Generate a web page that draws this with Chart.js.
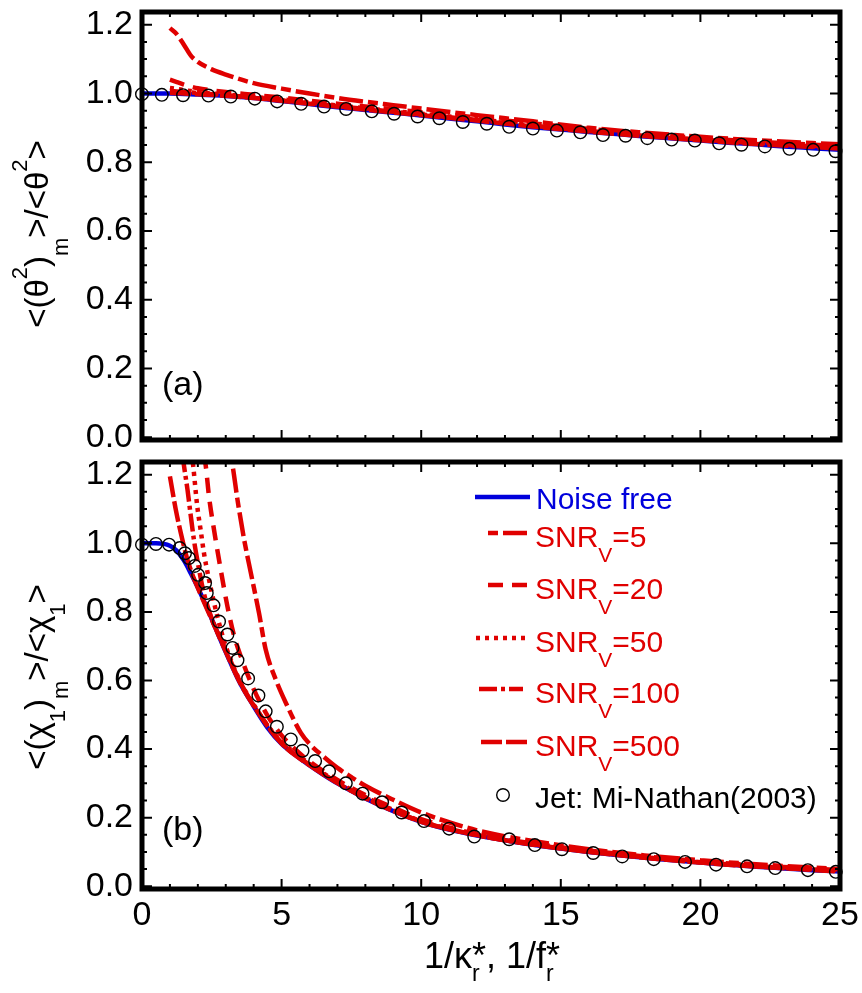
<!DOCTYPE html>
<html lang="en">
<head>
<meta charset="UTF-8" />
<title>Noise effect on scalar dissipation</title>
<script src="https://cdn.jsdelivr.net/npm/chart.js"></script>
<style>
  body { margin: 0; background: #fff; }
  #wrap { position: relative; width: 862px; height: 993px; }
  canvas { position: absolute; left: 0; }
</style>
</head>
<body>
<div id="wrap">
  <canvas id="chartA" width="862" height="455" style="top:0"></canvas>
  <canvas id="chartB" width="862" height="543" style="top:450px"></canvas>
</div>
<script>
// ---------- data, panel (a): <(theta^2)_m>/<theta^2>
const xCleanA = [0, 1, 2, 3, 4, 5, 6, 7, 8, 9, 10, 11, 12, 13, 14, 15, 16, 17, 18, 19, 20, 21, 22, 23, 24, 25];
const yCleanA = [1.0, 1.0, 0.997, 0.993, 0.987, 0.978, 0.969, 0.960, 0.952, 0.944, 0.936, 0.927, 0.919, 0.910, 0.902, 0.895, 0.888, 0.882, 0.875, 0.869, 0.863, 0.857, 0.852, 0.846, 0.841, 0.836];

const xNoisyA = [1, 1.25, 1.5, 1.75, 2, 2.5, 3, 4, 5, 6, 7, 8, 9, 10, 12, 14, 16, 18, 20, 22, 25];
const ySnr5A   = [1.19, 1.172, 1.142, 1.11, 1.092, 1.07, 1.055, 1.03, 1.014, 1.0, 0.987, 0.976, 0.966, 0.956, 0.937, 0.919, 0.9, 0.886, 0.874, 0.864, 0.852];
const ySnr20A  = [1.04, 1.033, 1.026, 1.02, 1.015, 1.009, 1.004, 0.996, 0.988, 0.979, 0.97, 0.962, 0.954, 0.946, 0.93, 0.913, 0.897, 0.882, 0.87, 0.86, 0.847];
const ySnr50A  = [1.016, 1.013, 1.01, 1.007, 1.004, 1.0, 0.997, 0.99, 0.983, 0.974, 0.965, 0.957, 0.949, 0.941, 0.925, 0.908, 0.893, 0.879, 0.867, 0.857, 0.844];
const ySnr100A = [1.008, 1.006, 1.004, 1.003, 1.001, 0.998, 0.995, 0.988, 0.98, 0.972, 0.963, 0.955, 0.947, 0.939, 0.923, 0.906, 0.891, 0.877, 0.866, 0.855, 0.842];
const ySnr500A = [1.002, 1.001, 1.0, 0.999, 0.998, 0.996, 0.993, 0.987, 0.979, 0.97, 0.962, 0.953, 0.945, 0.937, 0.921, 0.904, 0.889, 0.876, 0.864, 0.853, 0.84];

const xJetA = [0, 0.71, 1.47, 2.38, 3.18, 4.04, 4.84, 5.70, 6.52, 7.31, 8.23, 9.03, 9.87, 10.65, 11.49, 12.35, 13.15, 14.00, 14.86, 15.70, 16.51, 17.32, 18.10, 18.97, 19.80, 20.67, 21.47, 22.31, 23.19, 24.04, 24.84];
const yJetA = [0.998, 0.996, 0.995, 0.994, 0.991, 0.985, 0.977, 0.970, 0.962, 0.955, 0.948, 0.941, 0.933, 0.928, 0.917, 0.912, 0.903, 0.898, 0.892, 0.887, 0.879, 0.877, 0.870, 0.866, 0.863, 0.855, 0.851, 0.846, 0.839, 0.836, 0.832];

// ---------- data, panel (b): <(chi_1)_m>/<chi_1>
const xCleanB = [0, 0.5, 1, 1.25, 1.5, 1.75, 2, 2.25, 2.5, 2.75, 3, 3.5, 4, 4.5, 5, 5.5, 6, 6.5, 7, 7.5, 8, 9, 10, 11, 12, 13, 14, 15, 16, 17, 18, 19, 20, 21, 22, 23, 24, 25];
const yCleanB = [1.0, 1.0, 0.993, 0.978, 0.95, 0.912, 0.871, 0.826, 0.779, 0.73, 0.683, 0.594, 0.525, 0.462, 0.415, 0.382, 0.352, 0.325, 0.3, 0.278, 0.256, 0.219, 0.188, 0.165, 0.148, 0.134, 0.121, 0.11, 0.1, 0.091, 0.083, 0.076, 0.069, 0.063, 0.057, 0.052, 0.047, 0.043];

const xSnr5B = [3.15, 3.24, 3.42, 3.66, 3.9, 4.19, 4.43, 4.79, 5.15, 5.69, 6, 6.5, 7, 7.5, 8, 9, 10, 12, 14, 16, 18, 20, 22, 25];
const ySnr5B = [1.26, 1.228, 1.127, 1.01, 0.913, 0.797, 0.69, 0.603, 0.535, 0.447, 0.415, 0.378, 0.345, 0.318, 0.293, 0.252, 0.215, 0.163, 0.132, 0.108, 0.09, 0.076, 0.064, 0.05];
const xSnr20B = [2.2, 2.28, 2.4, 2.58, 2.82, 3.06, 3.3, 3.54, 4, 4.5, 5, 5.5, 6, 7, 8, 9, 10, 12, 14, 16, 18, 20, 22, 25];
const ySnr20B = [1.26, 1.228, 1.136, 1.039, 0.923, 0.816, 0.73, 0.67, 0.575, 0.497, 0.44, 0.398, 0.364, 0.31, 0.266, 0.229, 0.196, 0.152, 0.125, 0.104, 0.087, 0.073, 0.061, 0.047];
const xSnr50B = [1.78, 1.83, 1.98, 2.1, 2.22, 2.4, 2.6, 2.8, 3, 3.5, 4, 4.5, 5, 6, 7, 8, 10, 12, 15, 20, 25];
const ySnr50B = [1.26, 1.228, 1.107, 1.039, 0.971, 0.894, 0.82, 0.755, 0.70, 0.60, 0.53, 0.468, 0.422, 0.357, 0.304, 0.26, 0.19, 0.15, 0.112, 0.07, 0.044];
const xSnr100B = [1.45, 1.5, 1.63, 1.75, 1.86, 1.98, 2.2, 2.5, 3, 3.5, 4, 5, 6, 7, 8, 10, 12, 15, 20, 25];
const ySnr100B = [1.26, 1.228, 1.156, 1.078, 1.01, 0.952, 0.86, 0.78, 0.69, 0.598, 0.528, 0.418, 0.354, 0.302, 0.258, 0.189, 0.149, 0.111, 0.07, 0.044];
const xSnr500B = [1.0, 1.21, 1.39, 1.6, 1.8, 2, 2.5, 3, 3.5, 4, 5, 6, 7, 8, 10, 12, 15, 20, 25];
const ySnr500B = [1.195, 1.098, 1.03, 0.96, 0.91, 0.87, 0.777, 0.684, 0.595, 0.526, 0.416, 0.353, 0.301, 0.257, 0.188, 0.149, 0.11, 0.069, 0.043];

const xJetB = [0, 0.5, 0.97, 1.35, 1.54, 1.68, 1.89, 2.01, 2.26, 2.32, 2.56, 2.76, 3.06, 3.24, 3.42, 3.80, 4.17, 4.43, 4.83, 5.33, 5.75, 6.2, 6.7, 7.3, 7.9, 8.6, 9.3, 10.1, 11.0, 11.9, 13.15, 14.07, 15.04, 16.16, 17.2, 18.33, 19.45, 20.56, 21.67, 22.68, 23.85, 24.85];
const yJetB = [0.996, 0.998, 0.996, 0.986, 0.971, 0.957, 0.934, 0.908, 0.884, 0.855, 0.819, 0.772, 0.734, 0.695, 0.659, 0.606, 0.556, 0.510, 0.465, 0.428, 0.395, 0.365, 0.335, 0.30, 0.27, 0.245, 0.215, 0.19, 0.168, 0.145, 0.137, 0.12, 0.108, 0.097, 0.087, 0.079, 0.071, 0.063, 0.058, 0.053, 0.047, 0.042];

// legend / series text
const snrLevels = ['5', '20', '50', '100', '500'];
const jetLabel = 'Jet: Mi-Nathan(2003)';
const cleanLabel = 'Noise free';

// ---------- styles
const FONT = "'Liberation Sans', Arial, Helvetica, sans-serif";
const RED = '#e00000';
const BLUE = '#0000dc';
const DASHES = [[10, 5, 24, 5], [15, 9], [4, 5], [18, 4, 4, 4], [21, 4]];

Chart.defaults.font.family = FONT;
Chart.defaults.color = '#000';

function pts(xs, ys) {
  return xs.map((x, i) => ({ x: x, y: ys[i] }));
}

function lineSet(label, data, color, dash, order) {
  return {
    label: label, data: data, showLine: true,
    borderColor: color, backgroundColor: color,
    borderWidth: 4.5, borderDash: dash, borderCapStyle: 'butt',
    pointRadius: 0, cubicInterpolationMode: 'monotone', order: order
  };
}

function jetSet(data) {
  return {
    label: jetLabel, data: data, showLine: false, clip: false,
    pointRadius: 6.3, pointBorderWidth: 1.4, pointBorderColor: '#000',
    pointBackgroundColor: 'rgba(0,0,0,0)', order: 0
  };
}

// text with sub/superscripts: parts {t, s, dy, stack}
function drawRich(ctx, parts, x, y, measureOnly) {
  let cx = x, lastStart = x, lastW = 0;
  parts.forEach(p => {
    ctx.font = p.s + 'px ' + FONT;
    const w = ctx.measureText(p.t).width;
    const sx = p.stack ? lastStart : cx;
    if (!measureOnly) ctx.fillText(p.t, sx, y + (p.dy || 0));
    if (p.stack) {
      cx = lastStart + Math.max(lastW, w);
    } else {
      lastStart = sx; lastW = w; cx = sx + w;
    }
  });
  return cx - x;
}

function yTitle(ctx, parts, bx, cy) {
  ctx.save();
  ctx.fillStyle = '#000';
  ctx.textBaseline = 'alphabetic';
  ctx.translate(bx, cy);
  ctx.rotate(-Math.PI / 2);
  const w = drawRich(ctx, parts, 0, 0, true);
  drawRich(ctx, parts, -w / 2, 0);
  ctx.restore();
}

// inward ticks on all four sides plus the heavy frame
const frameTicks = {
  id: 'frameTicks',
  afterDatasetsDraw(chart) {
    const { ctx, chartArea: a, scales: { x, y } } = chart;
    ctx.save();
    ctx.strokeStyle = '#000';
    ctx.lineWidth = 2;
    ctx.beginPath();
    for (let v = 0; v <= 25; v++) {
      const px = x.getPixelForValue(v);
      const len = v % 5 === 0 ? 10 : 5;
      ctx.moveTo(px, a.bottom); ctx.lineTo(px, a.bottom - len);
      ctx.moveTo(px, a.top); ctx.lineTo(px, a.top + len);
    }
    for (let k = 0; k <= 24; k++) {
      const py = y.getPixelForValue(k * 0.05);
      const len = k % 4 === 0 ? 10 : 5;
      ctx.moveTo(a.left, py); ctx.lineTo(a.left + len, py);
      ctx.moveTo(a.right, py); ctx.lineTo(a.right - len, py);
    }
    ctx.stroke();
    ctx.lineWidth = 5;
    ctx.strokeRect(a.left, a.top, a.right - a.left, a.bottom - a.top);
    ctx.restore();
  }
};

const decorA = {
  id: 'decorA',
  afterDraw(chart) {
    const ctx = chart.ctx;
    yTitle(ctx, [
      { t: '<(θ', s: 33 }, { t: '2', s: 22, dy: -21 }, { t: ')', s: 33 },
      { t: 'm', s: 22, dy: 20 }, { t: '>/<θ', s: 33 }, { t: '2', s: 22, dy: -21 },
      { t: '>', s: 33 }
    ], 48, 234);
    ctx.save();
    ctx.fillStyle = '#000';
    ctx.font = '34px ' + FONT;
    ctx.fillText('(a)', 162, 395);
    ctx.restore();
  }
};

const decorB = {
  id: 'decorB',
  afterDraw(chart) {
    const ctx = chart.ctx;
    yTitle(ctx, [
      { t: '<(χ', s: 33 }, { t: '1', s: 22, dy: 17 }, { t: ')', s: 33 },
      { t: 'm', s: 22, dy: 20 }, { t: '>/<χ', s: 33 }, { t: '1', s: 22, dy: 17 },
      { t: '>', s: 33 }
    ], 48, 227);

    ctx.save();
    ctx.fillStyle = '#000';
    ctx.font = '34px ' + FONT;
    ctx.fillText('(b)', 162, 390);

    // x axis title
    const xParts = [
      { t: '1/κ', s: 36 }, { t: 'r', s: 23, dy: 13 }, { t: '*', s: 36, stack: true },
      { t: ', 1/f', s: 36 }, { t: 'r', s: 23, dy: 13 }, { t: '*', s: 36, stack: true }
    ];
    const w = drawRich(ctx, xParts, 0, 0, true);
    drawRich(ctx, xParts, 492 - w / 2, 518);

    // legend
    const lineX0 = [488, 488, 476, 479, 481];
    const lineX1 = [528, 528, 530, 523, 527];
    const rowBase = [97, 149, 202, 253, 306];
    ctx.lineWidth = 4.5;
    ctx.lineCap = 'butt';
    ctx.strokeStyle = BLUE;
    ctx.setLineDash([]);
    ctx.beginPath(); ctx.moveTo(475, 47); ctx.lineTo(530, 47); ctx.stroke();
    ctx.fillStyle = BLUE;
    ctx.font = '30px ' + FONT;
    ctx.fillText(cleanLabel, 536, 59);

    ctx.fillStyle = RED;
    ctx.strokeStyle = RED;
    snrLevels.forEach((lv, i) => {
      ctx.setLineDash(DASHES[i]);
      ctx.beginPath();
      ctx.moveTo(lineX0[i], rowBase[i] - 14);
      ctx.lineTo(lineX1[i], rowBase[i] - 14);
      ctx.stroke();
      drawRich(ctx, [{ t: 'SNR', s: 30 }, { t: 'V', s: 21, dy: 15 }, { t: '=' + lv, s: 30 }], 535, rowBase[i]);
    });
    ctx.setLineDash([]);
    ctx.strokeStyle = '#000';
    ctx.lineWidth = 1.4;
    ctx.beginPath(); ctx.arc(503, 345, 6.3, 0, Math.PI * 2); ctx.stroke();
    ctx.fillStyle = '#000';
    ctx.font = '30px ' + FONT;
    ctx.fillText(jetLabel, 535, 358);
    ctx.restore();
  }
};

function makeOptions(showX) {
  return {
    responsive: false,
    animation: false,
    layout: { padding: { left: 0, right: 22, top: 12, bottom: 0 } },
    plugins: { legend: { display: false }, tooltip: { enabled: false } },
    scales: {
      x: {
        type: 'linear', min: 0, max: 25,
        grid: { display: false, drawTicks: false },
        border: { display: false },
        ticks: { display: showX, stepSize: 5, padding: 6, color: '#000', font: { size: 34 } },
        afterFit: s => { s.height = showX ? 104 : 15; s.paddingLeft = 0; s.paddingRight = 0; }
      },
      y: {
        min: -0.008, max: 1.237,
        grid: { display: false, drawTicks: false },
        border: { display: false },
        ticks: {
          stepSize: 0.2, includeBounds: false, padding: 9, color: '#000',
          font: { size: 34 }, callback: v => v.toFixed(1)
        },
        afterFit: s => { s.width = 142; s.paddingTop = 0; s.paddingBottom = 0; }
      }
    }
  };
}

const labelsSnr = snrLevels.map(l => 'SNR_V=' + l);

new Chart(document.getElementById('chartA'), {
  type: 'scatter',
  data: {
    datasets: [
      jetSet(pts(xJetA, yJetA)),
      lineSet(labelsSnr[0], pts(xNoisyA, ySnr5A), RED, DASHES[0], 1),
      lineSet(labelsSnr[1], pts(xNoisyA, ySnr20A), RED, DASHES[1], 2),
      lineSet(labelsSnr[2], pts(xNoisyA, ySnr50A), RED, DASHES[2], 3),
      lineSet(labelsSnr[3], pts(xNoisyA, ySnr100A), RED, DASHES[3], 4),
      lineSet(labelsSnr[4], pts(xNoisyA, ySnr500A), RED, DASHES[4], 5),
      lineSet(cleanLabel, pts(xCleanA, yCleanA), BLUE, [], 6)
    ]
  },
  options: makeOptions(false),
  plugins: [frameTicks, decorA]
});

new Chart(document.getElementById('chartB'), {
  type: 'scatter',
  data: {
    datasets: [
      jetSet(pts(xJetB, yJetB)),
      lineSet(labelsSnr[0], pts(xSnr5B, ySnr5B), RED, DASHES[0], 1),
      lineSet(labelsSnr[1], pts(xSnr20B, ySnr20B), RED, DASHES[1], 2),
      lineSet(labelsSnr[2], pts(xSnr50B, ySnr50B), RED, DASHES[2], 3),
      lineSet(labelsSnr[3], pts(xSnr100B, ySnr100B), RED, DASHES[3], 4),
      lineSet(labelsSnr[4], pts(xSnr500B, ySnr500B), RED, DASHES[4], 5),
      lineSet(cleanLabel, pts(xCleanB, yCleanB), BLUE, [], 6)
    ]
  },
  options: makeOptions(true),
  plugins: [frameTicks, decorB]
});
</script>
</body>
</html>
